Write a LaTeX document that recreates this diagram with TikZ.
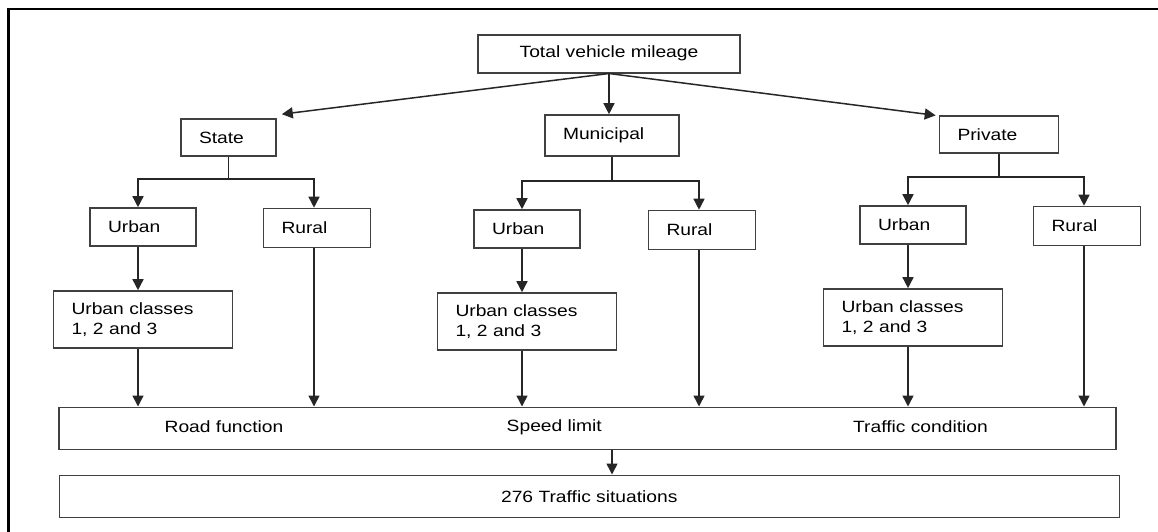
\documentclass[tikz,border=0pt]{standalone}
\usepackage{fontspec}
\setmainfont{Liberation Sans}[FakeStretch=1.18]
\usetikzlibrary{arrows.meta}
\definecolor{boxline}{gray}{0.25}

\begin{document}
\begin{tikzpicture}[x=1pt, y=-1pt,
	every node/.style={font=\fontsize{16.3}{20.7}\selectfont},
	blk/.style={draw=boxline, line width=1.6pt, inner xsep=18pt, inner ysep=0pt, align=left, text width=#1},
	wide/.style={draw=boxline, line width=1.6pt, inner sep=0pt, minimum height=42pt, minimum width=#1},
	arr/.style={draw=black!85, line width=1.5pt, -{Triangle[length=11pt, width=11pt]}}]
	\useasboundingbox (0,0) rectangle (1158,531);
	\draw[line width=2.5pt] (8.5,540) -- (8.5,9) -- (1170,9);
	% top and the three owners
	\node[blk=226pt, align=center, minimum height=38pt] (top) at (609,53.7) {Total vehicle mileage};
	\node[blk=59pt, minimum height=37pt] (state) at (228.5,137.5) {State};
	\node[blk=98pt, minimum height=41pt] (muni) at (612,135.5) {Municipal};
	\node[blk=83pt, minimum height=37pt] (priv) at (999,134.7) {Private};
	\draw[arr] (top.south) -- ([xshift=5pt, yshift=4pt]state.north east);
	\draw[arr] (top.south) -- (top.south |- muni.north);
	\draw[arr] (top.south) -- ([xshift=-3pt]priv.north west);
	% attributes and result
	\node[wide=1057pt] (attr) at (587.7,428.3) {};
	\node (fn) at (224,427) {Road function};
	\node (sp) at (554.3,427) {Speed limit};
	\node (tc) at (920.5,427) {Traffic condition};
	\node[wide=1060pt] (fin) at (589.3,496.3) {276 Traffic situations};
	\draw[arr] (muni.south |- attr.south) -- (muni.south |- fin.north);
	% urban / rural split per owner
	\foreach \p/\n/\ux/\rx/\dy in {state/1/138/314/0, muni/2/522/699/2, priv/3/908/1084/-2} {
		\node[blk=70pt, minimum height=38pt] (u\n) at ({\ux+5},{227+(\dy)}) {Urban};
		\node[blk=71pt, minimum height=39pt] (r\n) at ({\rx+3},{228+(\dy)}) {Rural};
		\node[blk=143pt, minimum height=57pt] (c\n) at ({\ux+5},{319.5+(\dy)}) {Urban classes\\1, 2 and 3};
		\coordinate (ju\n) at (\ux,{179+(\dy)});
		\coordinate (jr\n) at (\rx,{179+(\dy)});
		\draw[arr] (\p.south) |- (ju\n) -- (ju\n |- u\n.north);
		\draw[arr] (\p.south) |- (jr\n) -- (jr\n |- r\n.north);
		\draw[arr] (ju\n |- u\n.south) -- (ju\n |- c\n.north);
		\draw[arr] (ju\n |- c\n.south) -- (ju\n |- attr.north);
		\draw[arr] (jr\n |- r\n.south) -- (jr\n |- attr.north);
	}
\end{tikzpicture}
\end{document}
